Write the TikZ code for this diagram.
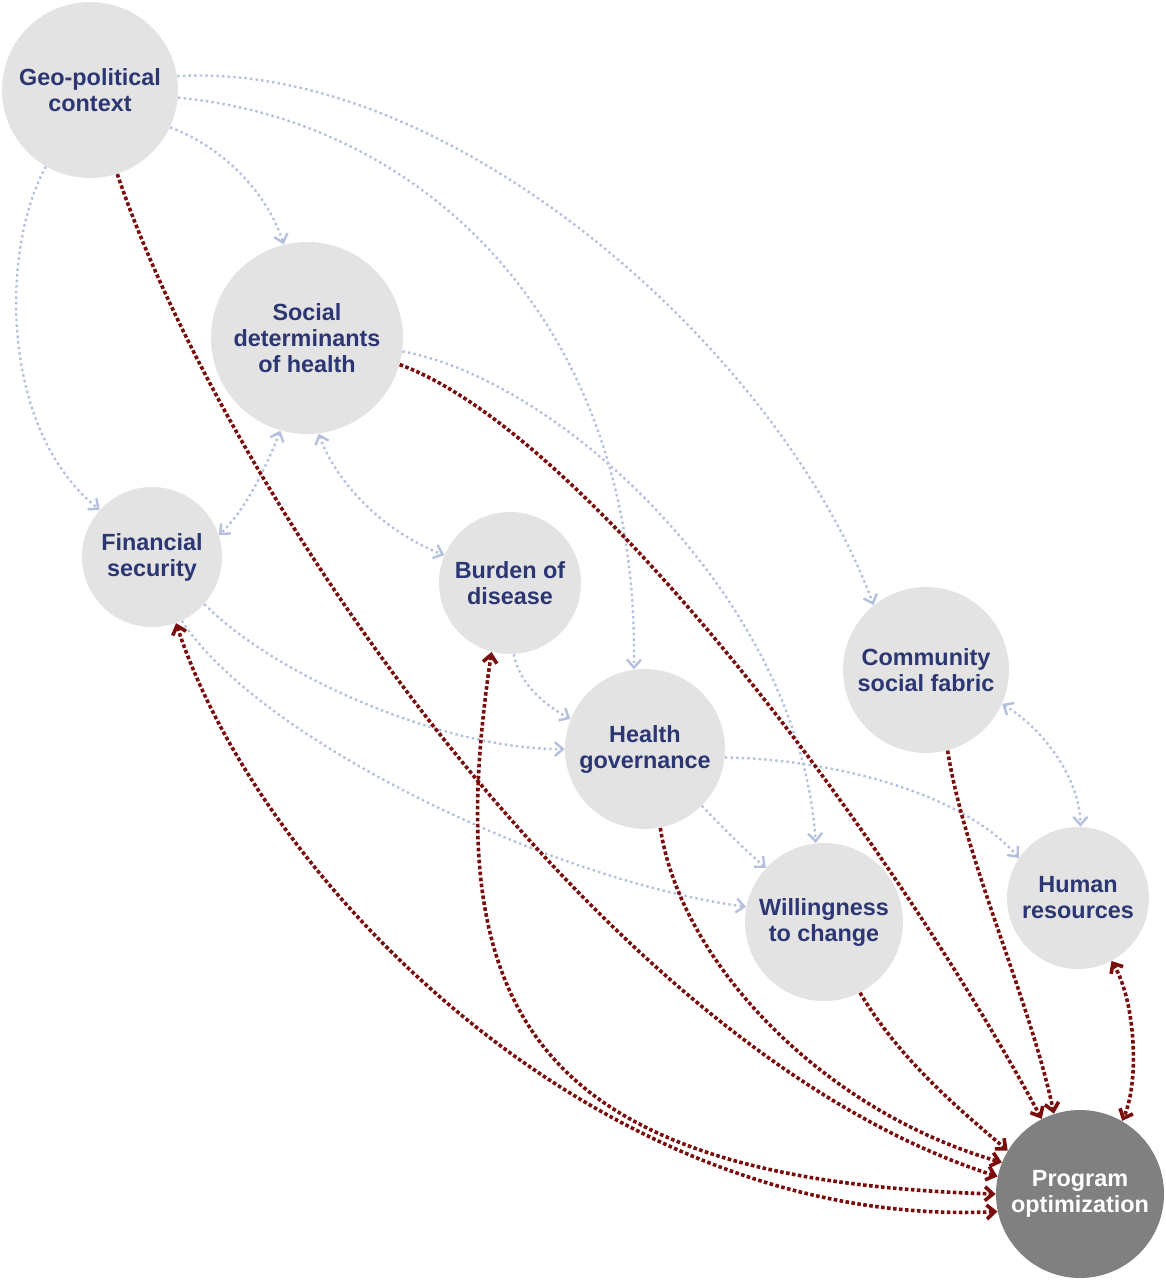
\documentclass[tikz,border=0pt]{standalone}
\usepackage{fontspec}
\setmainfont{Liberation Sans}
\usetikzlibrary{arrows.meta}
\definecolor{navy}{HTML}{2B3673}
\definecolor{bubblefill}{HTML}{E3E3E3}
\definecolor{hubfill}{HTML}{808080}
\definecolor{linkblue}{HTML}{B3C0DE}
\definecolor{linkred}{HTML}{7A0C0C}
\tikzset{
  bubble/.style={circle,fill=bubblefill,inner sep=0pt,align=center,text=navy,
    font=\fontsize{11.7}{13}\selectfont\bfseries},
  hub/.style={bubble,fill=hubfill,text=white},
  lnk/.style={draw=linkblue,line width=1.2pt,dash pattern=on 1.2pt off 1.6pt,->},
  rlnk/.style={draw=linkred,line width=1.8pt,dash pattern=on 1.8pt off 1.2pt,->},
  >={Straight Barb[length=4pt,width=7pt]},
}
\begin{document}
\begin{tikzpicture}[x=0.5pt,y=-0.5pt]
  \useasboundingbox (0,0) rectangle (1166,1280);
  \node[bubble,minimum size=88pt] (geo) at (90,90) {Geo-political\\context};
  \node[bubble,minimum size=96pt] (soc) at (307,338) {Social\\determinants\\of health};
  \node[bubble,minimum size=70pt] (fin) at (152,557) {Financial\\security};
  \node[bubble,minimum size=71pt] (bur) at (510,583) {Burden of\\disease};
  \node[bubble,minimum size=80pt] (gov) at (645,749) {Health\\governance};
  \node[bubble,minimum size=83pt] (com) at (926,670) {Community\\social fabric};
  \node[bubble,minimum size=79pt] (will) at (824,922) {Willingness\\to change};
  \node[bubble,minimum size=71pt] (hr) at (1078,898) {Human\\resources};
  \node[hub,minimum size=84pt] (prog) at (1080,1194) {Program\\optimization};

  \draw[lnk] (geo.-25) .. controls (230,150) and (270,200) .. (soc.104);
  \draw[lnk] (geo.-120) .. controls (0,250) and (0,430) .. (fin.138);
  \draw[lnk] (geo.-5) .. controls (420,120) and (640,320) .. (gov.98);
  \draw[lnk] (geo.9) .. controls (450,60) and (780,350) .. (com.129);
  \draw[lnk,<->] (soc.-106) .. controls (265,470) and (245,510) .. (fin.18);
  \draw[lnk,<->] (soc.-83) .. controls (335,480) and (380,530) .. (bur.157);
  \draw[lnk] (soc.-8) .. controls (560,380) and (800,600) .. (will.96);
  \draw[lnk] (bur.-87) .. controls (520,685) and (545,705) .. (gov.158);
  \draw[lnk] (fin.-42) .. controls (280,680) and (450,750) .. (gov.180);
  \draw[lnk] (fin.-65) .. controls (260,740) and (550,880) .. (will.169);
  \draw[lnk] (gov.-45) .. controls (725,830) and (745,850) .. (will.137);
  \draw[lnk] (gov.-6) .. controls (850,760) and (970,800) .. (hr.146);
  \draw[lnk,<->] (com.-24) .. controls (1045,730) and (1080,780) .. (hr.88);

  \draw[rlnk] (geo.-72) .. controls (220,480) and (600,1050) .. (prog.168);
  \draw[rlnk] (soc.-16) .. controls (580,430) and (880,820) .. (prog.117);
  \draw[rlnk,<->] (fin.-70) .. controls (260,880) and (600,1230) .. (prog.-168);
  \draw[rlnk,<->] (bur.-105) .. controls (440,1000) and (520,1180) .. (prog.180);
  \draw[rlnk] (gov.-79) .. controls (680,960) and (820,1110) .. (prog.158);
  \draw[rlnk] (will.-63) .. controls (900,1060) and (960,1110) .. (prog.149);
  \draw[rlnk] (com.-75) .. controls (965,860) and (1030,1000) .. (prog.108);
  \draw[rlnk,<->] (hr.-62) .. controls (1135,1000) and (1140,1080) .. (prog.60);
\end{tikzpicture}
\end{document}
